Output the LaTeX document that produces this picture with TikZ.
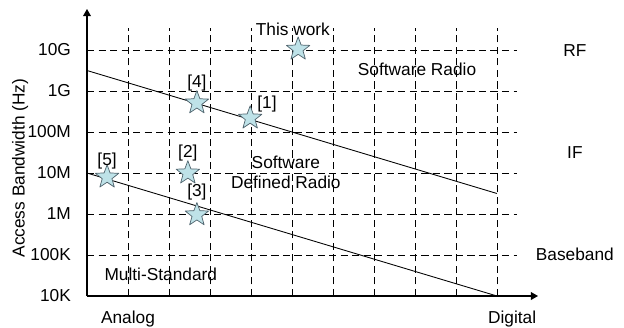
\documentclass[tikz,border=0pt]{standalone}
\usepackage{fontspec}
\setmainfont{Liberation Sans}
\usetikzlibrary{shapes.geometric,arrows.meta}
\definecolor{starfill}{RGB}{190,226,232}
\definecolor{starline}{RGB}{80,100,110}
\begin{document}
\begin{tikzpicture}[font=\fontsize{12}{14}\selectfont, line join=round, >={Triangle[length=5pt,width=5.5pt]},
	gridline/.style={dashed, dash pattern=on 5pt off 3pt, line width=0.6pt},
	refstar/.style={star, star points=5, star point ratio=2.4, minimum size=0.6cm, inner sep=0pt, draw=starline, fill=starfill, line width=0.5pt}]
	\useasboundingbox (-2.122,-0.756) rectangle (13.098,7.220);
	\foreach \x in {1,...,10}{
		\draw[gridline] (\x,0)--(\x,6.54);}
	\foreach \y/\t in {1/100K,2/1M,3/10M,4/100M,5/1G,6/10G}{
		\draw[gridline] (0,\y)--(10.5,\y);
		\node[anchor=east] (t\y) at (-0.27,\y) {\t};}
	\node[anchor=east] (t0) at (-0.27,0) {10K};
	\draw[->, line width=0.8pt](0,0)--(11,0);
	\draw[->, line width=0.8pt](0,0)--(0,7);
	\draw[line width=0.6pt] (0,5.5)--(10,2.5);
	\draw[line width=0.6pt] (0,3)--(10,0);
	\node[rotate=90] (ylab) at (-1.63,3.12) {Access Bandwidth (Hz)};
	\node (analog) at (1.0,-0.57) {Analog};
	\node (digital) at (10.37,-0.57) {Digital};
	\node (rf) at (11.9,5.98) {RF};
	\node (if) at (11.9,3.51) {IF};
	\node (bb) at (11.9,1.02) {Baseband};
	\node (sr) at (8.05,5.54) {Software Radio};
	\node[align=center, inner sep=0pt] (sdr) at (4.85,3.02) {Software\\Defined Radio};
	\node (ms) at (1.80,0.54) {Multi-Standard};
	% stars
	\node[refstar] (sw) at (5.15,6.02) {};
	\node[refstar] (s4) at (2.68,4.71) {};
	\node[refstar] (s1) at (3.98,4.34) {};
	\node[refstar] (s2) at (2.46,3.0) {};
	\node[refstar] (s3) at (2.68,1.98) {};
	\node[refstar] (s5) at (0.49,2.9) {};
	\node (lsw) at (5.02,6.51) {This work};
	\node (l4) at (2.68,5.20) {[4]};
	\node (l1) at (4.39,4.68) {[1]};
	\node (l2) at (2.46,3.49) {[2]};
	\node (l3) at (2.68,2.54) {[3]};
	\node (l5) at (0.49,3.30) {[5]};
\end{tikzpicture}
\end{document}
